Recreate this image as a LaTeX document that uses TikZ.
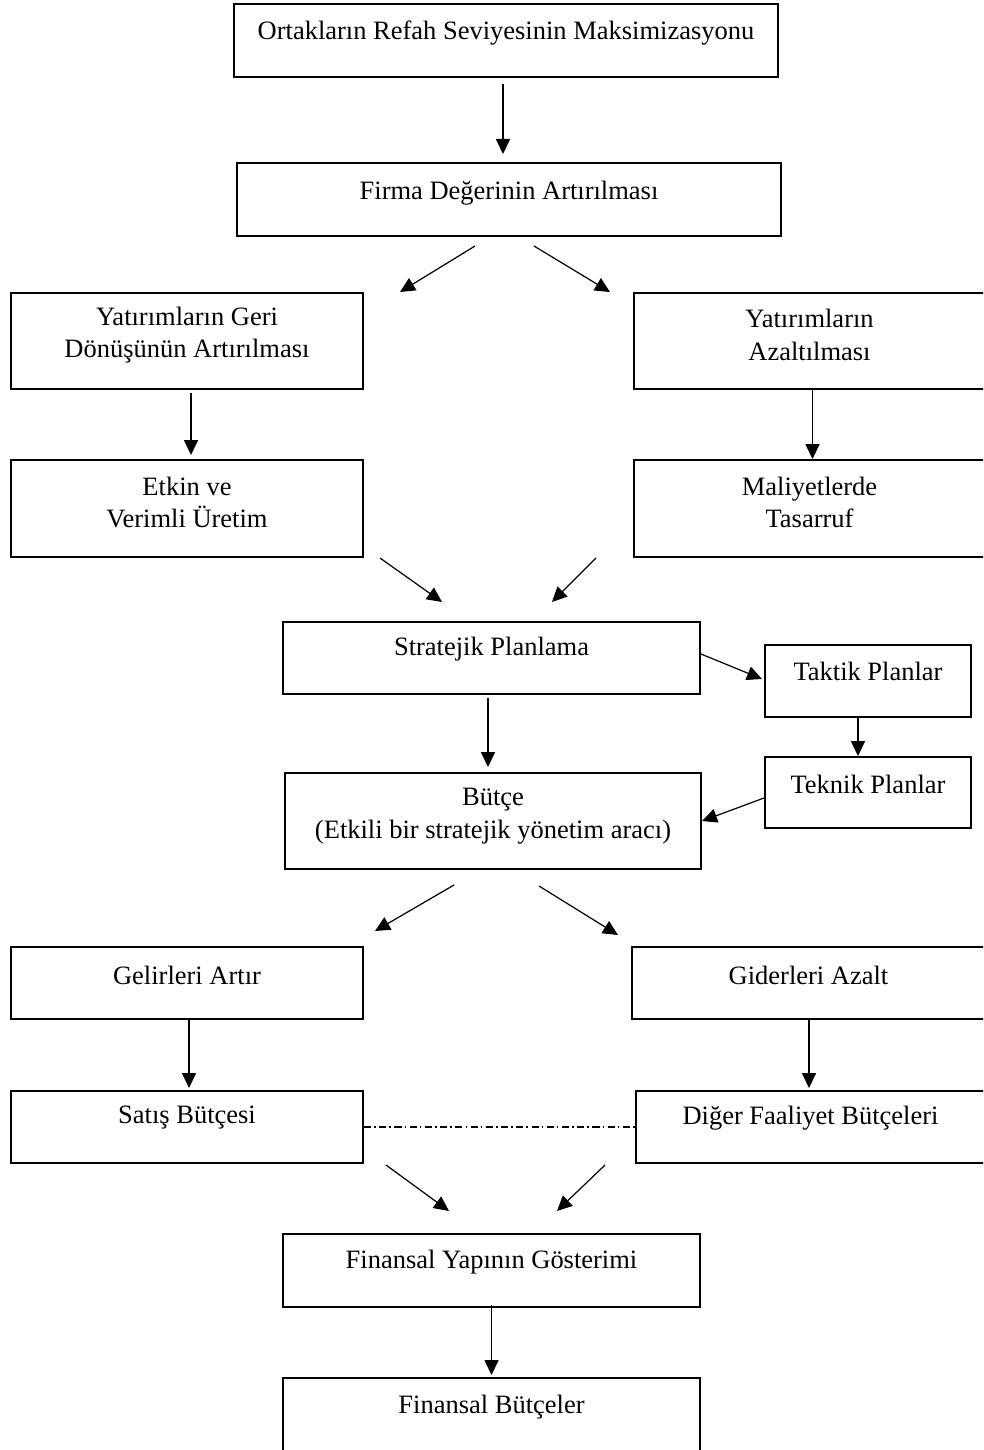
\documentclass[tikz,border=0pt]{standalone}
\usepackage{fontspec}
\setmainfont{Liberation Serif}
\usetikzlibrary{arrows.meta,calc}
\newcommand{\pxu}{0.453pt}
\tikzset{
	box/.style args={#1/#2}{draw, line width=0.9pt, minimum width=#1*\pxu, minimum height=#2*\pxu, inner sep=0pt},
	txt/.style={yshift=#1*\pxu, align=center, inner sep=0pt, font=\fontsize{12pt}{14.8pt}\selectfont},
	arr/.style={line width=0.55pt, -{Triangle[length=6.8pt,width=6.4pt]}},
	dashdot/.style={line width=0.5pt, dash pattern=on 3.2pt off 1.4pt on 0.7pt off 1.6pt}
}
\begin{document}
\begin{tikzpicture}[x=\pxu, y=-\pxu]
	\useasboundingbox (0,0) rectangle (983,1450);
	\clip (0,0) rectangle (983,1450);
	\node[box={544/73}, label={[txt=7.5]center:Ortakların Refah Seviyesinin Maksimizasyonu}] (ortak) at (506,40.5) {};
	\node[box={544/73}, label={[txt=6.5]center:Firma Değerinin Artırılması}] (firma) at (509,199.5) {};
	\node[box={352/96}, label={[txt=6]center:{Yatırımların Geri\\Dönüşünün Artırılması}}] (geri) at (187,341) {};
	\node[box={351/96}, label={[txt=6]center:{Yatırımların\\Azaltılması}}] (azalt) at (809.5,341) {};
	\node[box={352/97}, label={[txt=6]center:{Etkin ve\\Verimli Üretim}}] (etkin) at (187,508.5) {};
	\node[box={351/97}, label={[txt=6]center:{Maliyetlerde\\Tasarruf}}] (maliyet) at (809.5,508.5) {};
	\node[box={417/72}, label={[txt=9]center:Stratejik Planlama}] (strateji) at (491.5,658) {};
	\node[box={206/72}, label={[txt=10]center:Taktik Planlar}] (taktik) at (868,681) {};
	\node[box={206/71}, label={[txt=8.5]center:Teknik Planlar}] (teknik) at (868,792.5) {};
	\node[box={416/96}, label={[txt=5]center:{Bütçe\\(Etkili bir stratejik yönetim aracı)}}] (butce) at (493,821) {};
	\node[box={352/72}, label={[txt=8]center:Gelirleri Artır}] (gelir) at (187,983) {};
	\node[box={353/72}, label={[txt=8]center:Giderleri Azalt}] (gider) at (808.5,983) {};
	\node[box={352/72}, label={[txt=9]center:Satış Bütçesi}] (satis) at (187,1127) {};
	\node[box={349/72}, label={[txt=9]center:Diğer Faaliyet Bütçeleri}] (diger) at (810.5,1127) {};
	\node[box={417/73}, label={[txt=8.5]center:Finansal Yapının Gösterimi}] (fyapi) at (491.5,1270.5) {};
	\node[box={417/73}, label={[txt=7.5]center:Finansal Bütçeler}] (fbutce) at (491.5,1414.5) {};

	\draw[arr] ($(ortak.south)+(-3,6)$) -- ($(firma.north)+(-6,-8)$);
	\draw[arr] ($(firma.south)+(-34,9)$) -- ($(geri.north east)+(36,0)$);
	\draw[arr] ($(firma.south)+(25,9)$) -- ($(azalt.north west)+(-23,0)$);
	\draw[arr] ($(geri.south)+(4,3)$) -- ($(etkin.north)+(4,-4)$);
	\draw[arr] ($(azalt.south)+(3,0)$) -- ($(maliyet.north)+(3,0)$);
	\draw[arr] ($(etkin.south east)+(16,0)$) -- ($(strateji.north)+(-49.5,-19)$);
	\draw[arr] ($(maliyet.south west)+(-37,0)$) -- ($(strateji.north)+(60.5,-19)$);
	\draw[arr] ($(strateji.east)+(0,-4)$) -- ($(taktik.west)+(-2,-2)$);
	\draw[arr] ($(strateji.south)+(-3.5,3)$) -- ($(butce.north)+(-5,-5)$);
	\draw[arr] ($(taktik.south)+(-10,0)$) -- ($(teknik.north)+(-10,0)$);
	\draw[arr] ($(teknik.west)+(0,5.5)$) -- (butce.east);
	\draw[arr] ($(butce.south)+(-39,15)$) -- ($(gelir.north east)+(11,-15)$);
	\draw[arr] ($(butce.south)+(46,16)$) -- ($(gider.north west)+(-13,-11)$);
	\draw[arr] ($(gelir.south)+(2,0)$) -- ($(satis.north)+(2,-2)$);
	\draw[arr] ($(gider.south)+(0.5,0)$) -- ($(diger.north)+(-1.5,-2)$);
	\draw[dashdot] (satis.east) -- (diger.west);
	\draw[arr] ($(satis.south east)+(22,1)$) -- ($(fyapi.north)+(-42.5,-22)$);
	\draw[arr] ($(diger.south west)+(-30,1)$) -- ($(fyapi.north)+(65.5,-22)$);
	\draw[arr] ($(fyapi.south)+(0,-3)$) -- ($(fbutce.north)+(0,-2)$);
\end{tikzpicture}
\end{document}
